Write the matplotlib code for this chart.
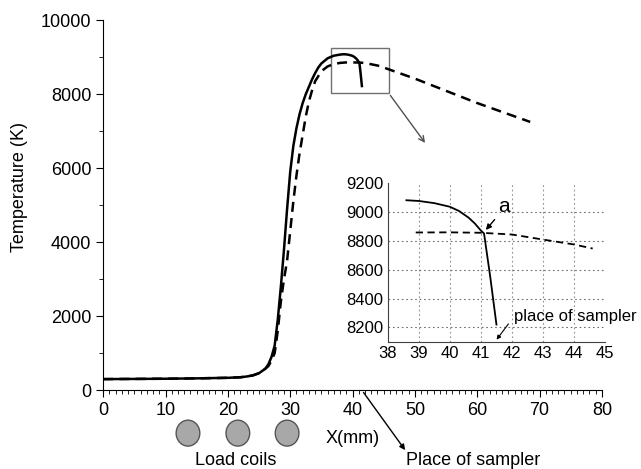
import numpy as np
import matplotlib
matplotlib.use('Agg')
import matplotlib.pyplot as plt
from matplotlib.patches import Rectangle, Ellipse
from matplotlib.ticker import MultipleLocator

plt.rcParams['font.family'] = ['Liberation Sans', 'DejaVu Sans']

# temperature along the torch axis, solid and dashed cases
x_solid = [0, 5, 10, 15, 20, 22, 23, 24, 25, 26, 26.5, 27, 27.5, 28, 28.5, 29, 29.5, 30,
           30.5, 31, 31.5, 32, 32.5, 33, 33.5, 34, 34.5, 35, 36, 37, 38, 38.6, 39, 39.5,
           40, 40.3, 40.6, 40.8, 41, 41.1, 41.3, 41.5]
t_solid = [300, 305, 310, 320, 335, 350, 370, 400, 460, 580, 700, 900, 1200, 1900, 2800,
           3800, 4900, 5900, 6600, 7080, 7460, 7760, 8000, 8200, 8400, 8570, 8720, 8830,
           8970, 9040, 9070, 9080, 9075, 9060, 9035, 9005, 8960, 8920, 8870, 8850, 8550,
           8220]
x_dash = [0, 5, 10, 15, 20, 22, 23, 24, 25, 26, 26.5, 27, 27.5, 28, 28.5, 29, 29.5, 30,
          30.5, 31, 31.5, 32, 32.5, 33, 33.5, 34, 35, 36, 37, 38, 38.9, 40, 41, 42, 43, 44,
          44.6, 45, 50, 55, 60, 65, 68.5]
t_dash = [300, 305, 310, 320, 335, 350, 370, 400, 460, 580, 650, 800, 1000, 1600, 2400,
          3000, 3500, 4300, 5100, 5800, 6400, 6900, 7400, 7800, 8100, 8350, 8620, 8750,
          8815, 8845, 8857, 8858, 8855, 8843, 8808, 8774, 8746, 8720, 8420, 8090, 7760,
          7460, 7250]

coil_x = [13.6, 21.6, 29.5]
sampler_x = 41.5

fig = plt.figure(figsize=(6.41, 4.69), dpi=100)
ax = fig.add_axes([0.161, 0.168, 0.778, 0.789])
ax.plot(x_solid, t_solid, color='black', lw=1.8)
ax.plot(x_dash, t_dash, color='black', lw=1.8, dashes=(4, 2.5))
ax.set_xlim(0, 80)
ax.set_ylim(0, 10000)
ax.spines['top'].set_visible(False)
ax.spines['right'].set_visible(False)
ax.xaxis.set_major_locator(MultipleLocator(10))
ax.xaxis.set_minor_locator(MultipleLocator(1))
ax.yaxis.set_major_locator(MultipleLocator(2000))
ax.yaxis.set_minor_locator(MultipleLocator(1000))
ax.tick_params(which='major', length=5, labelsize=13)
ax.tick_params(which='minor', length=3)
ax.set_ylabel('Temperature (K)', fontsize=13)
ax.yaxis.set_label_coords(-0.15, 0.55)

# zoom box and arrow toward the inset
ax.add_patch(Rectangle((36.5, 8027), 9.3, 1216, fill=False, edgecolor='#707070', lw=1))
ax.annotate('', xy=(51.9, 6622), xytext=(45.8, 8027),
            arrowprops=dict(arrowstyle='->', color='#505050', lw=1))

# labels below the axis
ax.text(35.6, -1300, 'X(mm)', fontsize=13, ha='left', va='center', clip_on=False)
ax.annotate('', xy=(48.7, -1680), xytext=(sampler_x, 0), annotation_clip=False,
            arrowprops=dict(arrowstyle='-|>', color='black', lw=1, mutation_scale=8))
ax.text(48.5, -1890, 'Place of sampler', fontsize=13, ha='left', va='center', clip_on=False)
for cx in coil_x:
    ax.add_patch(Ellipse((cx, -1160), 3.8, 700, facecolor='#a8a8a8', edgecolor='#555555',
                         lw=1, clip_on=False))
ax.text(21.3, -1890, 'Load coils', fontsize=13, ha='center', va='center', clip_on=False)

# inset: close-up around the sampler
ins = fig.add_axes([0.605, 0.271, 0.339, 0.339])
ins.patch.set_alpha(0)
xs = np.array(x_solid)
ts = np.array(t_solid)
xd = np.array(x_dash)
td = np.array(t_dash)
ms = xs >= 38.6
md = (xd >= 38.9) & (xd <= 44.6)
ins.plot(xs[ms], ts[ms], color='black', lw=1.3)
ins.plot(xd[md], td[md], color='black', lw=1.3, dashes=(4, 2.5))
ins.set_xlim(38, 45)
ins.set_ylim(8100, 9200)
ins.set_xticks(range(38, 46))
ins.set_yticks(range(8200, 9201, 200))
for v in range(39, 45):
    ins.axvline(v, color='#909090', lw=0.8, ls=(0, (1.5, 2.5)), zorder=0)
for v in range(8200, 9001, 200):
    ins.axhline(v, color='#707070', lw=0.8, ls=(0, (1.5, 2.5)), zorder=0)
ins.spines['top'].set_visible(False)
ins.spines['right'].set_visible(False)
for s in ('left', 'bottom'):
    ins.spines[s].set_color('#404040')
ins.tick_params(length=0, labelsize=12, pad=3)
ins.text(41.75, 9040, 'a', fontsize=15, ha='center', va='center')
ins.annotate('', xy=(41.1, 8860), xytext=(41.5, 8961),
             arrowprops=dict(arrowstyle='-|>', color='black', lw=1, mutation_scale=8))
ins.text(42.05, 8274, 'place of sampler', fontsize=12, ha='left', va='center', clip_on=False)
ins.annotate('', xy=(sampler_x - 0.05, 8100), xytext=(41.94, 8240), annotation_clip=False,
             arrowprops=dict(arrowstyle='-|>', color='black', lw=0.8, mutation_scale=6))

fig.savefig('out.png', dpi=100)
